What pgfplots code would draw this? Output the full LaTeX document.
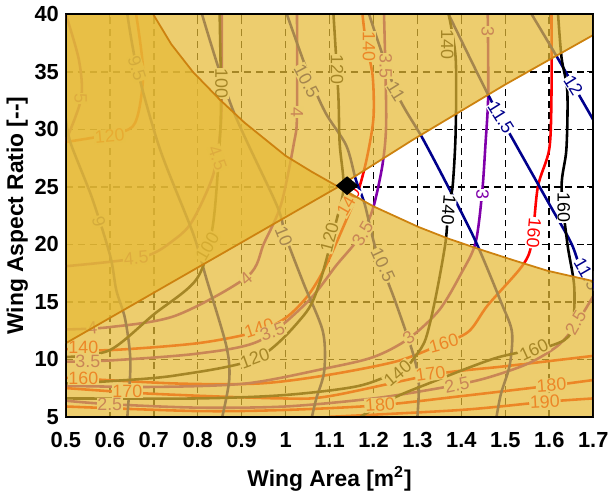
\documentclass[border=0pt]{standalone}
\usepackage{fontspec}
\setmainfont{Liberation Sans}
\usepackage{pgfplots}
\pgfplotsset{compat=1.18}
\definecolor{gold}{RGB}{230,186,54}
\definecolor{bnd}{RGB}{205,130,15}
\definecolor{cA}{RGB}{255,0,0}
\definecolor{cB}{RGB}{128,0,170}
\definecolor{cC}{RGB}{0,0,140}
\definecolor{cD}{RGB}{0,0,0}
\tikzset{lbl/.style={fill=white, inner sep=0.4pt, font=\fontsize{9}{9}\selectfont}}
\begin{document}
\begin{tikzpicture}
\begin{axis}[
 width=266pt, height=203pt, scale only axis,
 xmin=0.5, xmax=1.7, ymin=5, ymax=40,
 xtick={0.5,0.6,0.7,0.8,0.9,1,1.1,1.2,1.3,1.4,1.5,1.6,1.7},
 ytick={5,10,15,20,25,30,35,40},
 grid=major,
 major grid style={black, line width=0.8pt, dash pattern=on 3.5pt off 2.5pt},
 axis line style={black, line width=0.9pt},
 tick align=inside, major tick length=3pt, tick style={black, line width=0.6pt},
 /pgf/number format/assume math mode=true,
 ticklabel style={font=\fontsize{11}{12}\selectfont\bfseries},
 xticklabel style={yshift=-4.5pt},
 xlabel={Wing Area [m\textsuperscript{2}]},
 ylabel={Wing Aspect Ratio [-{}-]},
 label style={font=\fontsize{11.5}{12}\selectfont\bfseries},
 xlabel style={at={(axis description cs:0.5,-0.172)}, anchor=base},
 ylabel style={at={(axis description cs:-0.092,0.5)}, anchor=center},
 every axis plot/.append style={line width=1.3pt},
]
% ---- family A (red)
\addplot[cA, smooth] coordinates {(0.5,28.9) (0.63,29.8) (0.662,31) (0.676,35) (0.66,40)};
\addplot[cA, smooth] coordinates {(0.5,10.9) (0.6,10.8) (0.8,11.4) (0.935,12.4) (1.0,13.6) (1.05,15.5) (1.09,18) (1.138,22.1) (1.165,24.6) (1.185,27.5) (1.2,31) (1.198,34.7) (1.183,37.5) (1.175,40)};
\addplot[cA, smooth] coordinates {(0.5,8.4) (0.75,7.9) (0.94,7.9) (1.09,8.6) (1.25,9.8) (1.348,11.2) (1.416,12.4) (1.46,14.7) (1.538,18.1) (1.56,20.1) (1.574,25) (1.60,28.3) (1.605,33) (1.605,40)};
\addplot[cA, smooth] coordinates {(0.5,7.5) (0.7,7.0) (0.99,6.6) (1.1,6.8) (1.34,8.7) (1.5,9.4) (1.7,10.3)};
\addplot[cA, smooth] coordinates {(0.5,5.9) (0.8,5.5) (1.0,5.6) (1.21,6.0) (1.4,6.8) (1.6,7.7) (1.7,8.2)};
\addplot[cA, smooth] coordinates {(1.1,5) (1.4,5.6) (1.59,6.3) (1.7,6.6)};
% ---- family B (purple)
\addplot[cB, smooth] coordinates {(0.5,6.4) (0.6,6.1) (0.8,5.8) (1.0,5.9) (1.2,6.6) (1.35,7.5) (1.45,8.3) (1.55,9.6) (1.62,11.2) (1.66,13) (1.7,15.5)};
\addplot[cB, smooth] coordinates {(0.5,7.7) (0.7,7.6) (0.91,7.9) (1.09,9.2) (1.2,10.2) (1.28,11.8) (1.35,14.3) (1.40,17.5) (1.432,20.1) (1.447,24.4) (1.455,28.8) (1.461,33) (1.46,40)};
\addplot[cB, smooth] coordinates {(0.5,9.8) (0.6,9.9) (0.8,10.5) (0.94,11.6) (1.05,15) (1.116,18.2) (1.16,20.2) (1.19,22.2) (1.205,24) (1.222,27.3) (1.229,31) (1.224,40)};
\addplot[cB, smooth] coordinates {(0.5,12.6) (0.6,12.8) (0.75,13.8) (0.913,17.2) (0.951,20.1) (0.99,23.5) (1.019,28.8) (1.026,31.2) (1.026,40)};
\addplot[cB, smooth] coordinates {(0.5,18.1) (0.676,18.9) (0.75,20.5) (0.789,22.1) (0.835,26) (0.852,30) (0.855,34) (0.855,40)};
\addplot[cB, smooth] coordinates {(0.5,40) (0.53,36) (0.535,32.7) (0.5,29)};
% ---- family C (navy)
\addplot[cC, smooth] coordinates {(0.5,31) (0.511,28.8) (0.56,24) (0.601,19) (0.615,16) (0.635,13.5) (0.647,9.8) (0.64,5)};
\addplot[cC, smooth] coordinates {(0.64,40) (0.662,35.3) (0.714,28.3) (0.789,21) (0.82,17) (0.865,11.2) (0.872,8.3) (0.856,5)};
\addplot[cC, smooth] coordinates {(0.81,40) (0.879,31.8) (0.98,23.4) (1.0,20.7) (1.041,16.6) (1.085,12.4) (1.088,9) (1.07,6.6) (1.06,5)};
\addplot[cC, smooth] coordinates {(1.003,40) (1.05,35) (1.09,31.5) (1.138,28.6) (1.16,25.6) (1.18,23.5) (1.206,19.5) (1.25,15) (1.29,10.5) (1.303,8) (1.3,5)};
\addplot[cC, smooth] coordinates {(1.19,40) (1.251,33.3) (1.312,29.2) (1.37,25) (1.432,20.3) (1.49,15) (1.515,12.4) (1.51,9.5) (1.49,7) (1.48,5)};
\addplot[cC, smooth] coordinates {(1.371,40) (1.461,33) (1.522,28.8) (1.6,23.5) (1.65,20.1) (1.673,17.7) (1.7,16)};
\addplot[cC, smooth] coordinates {(1.56,40) (1.619,36.2) (1.702,30.7)};
% ---- family D (black)
\addplot[cD, smooth] coordinates {(0.85,40) (0.853,33) (0.85,28.8) (0.834,21.5) (0.798,17) (0.7,13.9) (0.6,10.8) (0.5,10.2)};
\addplot[cD, smooth] coordinates {(1.109,40) (1.12,33) (1.123,28.8) (1.132,25) (1.116,22.1) (1.077,16.6) (1.041,13.8) (0.935,10.1) (0.75,8.6) (0.6,8.1) (0.5,7.9)};
\addplot[cD, smooth] coordinates {(1.371,40) (1.387,36.2) (1.387,29.8) (1.38,25) (1.371,23.6) (1.364,20.2) (1.341,15.3) (1.319,11.8) (1.296,10.3) (1.267,9.2) (1.168,7.7) (1.0,6.9) (0.8,6.6) (0.5,6.6)};
\addplot[cD, smooth] coordinates {(1.62,40) (1.628,36.2) (1.641,33.3) (1.639,28.3) (1.628,25) (1.641,20.1) (1.657,16.2) (1.65,12.4) (1.605,11.2) (1.477,10.1) (1.312,7.7) (1.244,6.6) (1.17,5)};
% ---- contour labels
\node[lbl, text=cD, rotate=-90] at (axis cs:1.633,23.2) {160};
\node[lbl, text=cD, rotate=-95] at (axis cs:1.371,23.0) {140};
\node[lbl, text=cD, rotate=-90] at (axis cs:1.368,37.4) {140};
\node[lbl, text=cD, rotate=-90] at (axis cs:1.117,35.2) {120};
\node[lbl, text=cD, rotate=75] at (axis cs:1.10,20.6) {120};
\node[lbl, text=cD, rotate=20] at (axis cs:0.93,10.1) {120};
\node[lbl, text=cD, rotate=-90] at (axis cs:0.854,34.0) {100};
\node[lbl, text=cD, rotate=60] at (axis cs:0.822,19.8) {100};
\node[lbl, text=cD, rotate=25] at (axis cs:1.565,10.8) {160};
\node[lbl, text=cD, rotate=40] at (axis cs:1.255,8.8) {140};
\node[lbl, text=cA, rotate=-95] at (axis cs:1.565,21.0) {160};
\node[lbl, text=cA, rotate=-90] at (axis cs:1.19,37.2) {140};
\node[lbl, text=cA, rotate=60] at (axis cs:1.143,23.7) {140};
\node[lbl, text=cA, rotate=5] at (axis cs:0.60,29.4) {120};
\node[lbl, text=cA, rotate=18] at (axis cs:0.94,12.7) {140};
\node[lbl, text=cA] at (axis cs:0.54,11.0) {140};
\node[lbl, text=cA, rotate=15] at (axis cs:1.36,11.4) {160};
\node[lbl, text=cA] at (axis cs:0.54,8.35) {160};
\node[lbl, text=cA, rotate=8] at (axis cs:1.33,8.75) {170};
\node[lbl, text=cA] at (axis cs:0.64,7.25) {170};
\node[lbl, text=cA, rotate=4] at (axis cs:1.605,7.75) {180};
\node[lbl, text=cA, rotate=4] at (axis cs:1.215,6.05) {180};
\node[lbl, text=cA, rotate=3] at (axis cs:1.59,6.3) {190};
\node[lbl, text=cB, rotate=-90] at (axis cs:1.448,24.3) {3};
\node[lbl, text=cB, rotate=-90] at (axis cs:1.46,38.5) {3};
\node[lbl, text=cB, rotate=-90] at (axis cs:1.228,35.5) {3.5};
\node[lbl, text=cB, rotate=60] at (axis cs:1.175,20.9) {3.5};
\node[lbl, text=cB, rotate=20] at (axis cs:0.97,12.4) {3.5};
\node[lbl, text=cB] at (axis cs:0.55,9.85) {3.5};
\node[lbl, text=cB, rotate=-90] at (axis cs:1.026,31.5) {4};
\node[lbl, text=cB, rotate=40] at (axis cs:0.91,17.0) {4};
\node[lbl, text=cB, rotate=5] at (axis cs:0.56,12.7) {4};
\node[lbl, text=cB, rotate=-70] at (axis cs:0.845,27.5) {4.5};
\node[lbl, text=cB, rotate=5] at (axis cs:0.66,18.8) {4.5};
\node[lbl, text=cB, rotate=-90] at (axis cs:0.534,32.7) {5};
\node[lbl, text=cB, rotate=35] at (axis cs:1.28,11.9) {3};
\node[lbl, text=cB, rotate=12] at (axis cs:1.39,7.8) {2.5};
\node[lbl, text=cB] at (axis cs:0.6,6.05) {2.5};
\node[lbl, text=cB, rotate=60] at (axis cs:1.66,13.2) {2.5};
\node[lbl, text=cC, rotate=-58] at (axis cs:1.655,33.8) {12};
\node[lbl, text=cC, rotate=-58] at (axis cs:1.49,31.0) {11.5};
\node[lbl, text=cC, rotate=-60] at (axis cs:1.685,17.4) {11.5};
\node[lbl, text=cC, rotate=-58] at (axis cs:1.251,33.3) {11};
\node[lbl, text=cC, rotate=-62] at (axis cs:1.048,34.2) {10.5};
\node[lbl, text=cC, rotate=-65] at (axis cs:1.222,18.2) {10.5};
\node[lbl, text=cC, rotate=-68] at (axis cs:0.996,20.7) {10};
\node[lbl, text=cC, rotate=-72] at (axis cs:0.662,35.3) {9.5};
\node[lbl, text=cC, rotate=-75] at (axis cs:0.575,22) {9};
% ---- constraint regions
\addplot[draw=none, fill=gold, fill opacity=0.72] coordinates {(0.5,11.4) (0.737,16.6) (0.906,20.3) (1.12,25) (1.29,29.1) (1.5,33.9) (1.7,38.2) (1.7,40) (0.5,40)} -- cycle;
\addplot[draw=none, fill=gold, fill opacity=0.72] coordinates {(0.699,40) (0.74,37.4) (0.789,35) (0.85,32.6) (0.906,30.6) (1.0,27.7) (1.06,26.3) (1.12,25) (1.2,23.3) (1.303,21.5) (1.37,20.5) (1.447,19.5) (1.52,18.6) (1.596,17.7) (1.7,16.8) (1.7,5) (0.5,5) (0.5,40)} -- cycle;
\addplot[bnd, line width=0.9pt] coordinates {(0.5,11.4) (0.737,16.6) (0.906,20.3) (1.12,25) (1.29,29.1) (1.5,33.9) (1.7,38.2)};
\addplot[bnd, line width=0.9pt] coordinates {(0.699,40) (0.74,37.4) (0.789,35) (0.85,32.6) (0.906,30.6) (1.0,27.7) (1.06,26.3) (1.12,25) (1.2,23.3) (1.303,21.5) (1.37,20.5) (1.447,19.5) (1.52,18.6) (1.596,17.7) (1.7,16.8)};
% ---- design point
\addplot[only marks, mark=diamond*, mark size=4.4pt, mark options={xscale=1.6, line width=0.5pt}, black] coordinates {(1.14,25.1)};
\draw[black, line width=0.9pt] (rel axis cs:0,0) rectangle (rel axis cs:1,1);
\end{axis}
\end{tikzpicture}
\end{document}
